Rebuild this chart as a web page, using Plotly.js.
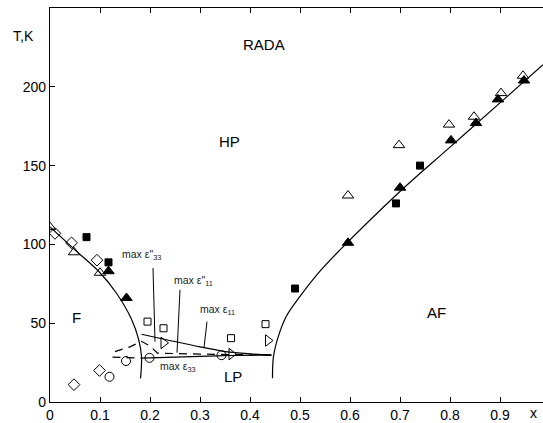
<!DOCTYPE html>
<html>
<head>
<meta charset="utf-8">
<script src="https://cdn.plot.ly/plotly-3.0.1.min.js"></script>
<style>html,body{margin:0;padding:0;background:#fff;}#chart{width:543px;height:423px;}</style>
</head>
<body>
<div id="chart"></div>
<script>
// ---- data ----
const openTriX = [0.0, 0.048, 0.1, 0.596, 0.698, 0.798, 0.848, 0.902, 0.946];
const openTriY = [111, 95, 82, 131, 163, 176, 181, 196, 207];
const fillTriX = [0.117, 0.153, 0.596, 0.70, 0.802, 0.852, 0.896, 0.948];
const fillTriY = [83, 66, 101, 136, 166, 177, 192, 204];
const fillSqX = [0.073, 0.117, 0.49, 0.692, 0.74];
const fillSqY = [104.6, 88.6, 72, 126, 150];
const openDiaX = [0.01, 0.043, 0.094, 0.099, 0.048];
const openDiaY = [107, 101, 90, 20, 11];
const openCircX = [0.119, 0.152, 0.199, 0.343];
const openCircY = [16, 26, 28, 29.7];
const openSqX = [0.195, 0.227, 0.362, 0.431];
const openSqY = [51, 46.8, 40.5, 49.4];
const openRTriX = [0.227, 0.363, 0.436];
const openRTriY = [37.5, 30.4, 39];

// phase boundaries
const leftBX = [0.0, 0.05, 0.1, 0.133, 0.163, 0.177, 0.183, 0.181];
const leftBY = [111, 96.5, 82, 69, 52.5, 40, 29, 15];
const rightBX = [0.445, 0.447, 0.457, 0.473, 0.5, 0.54, 0.58, 0.7, 0.8, 0.9, 0.986];
const rightBY = [15, 29, 42, 54.6, 67, 83, 96.5, 133.6, 161.7, 189.8, 214];
const upperLPX = [0.183, 0.3, 0.36, 0.443];
const upperLPY = [43, 35, 31.6, 29.8];
const lowerLPX = [0.183, 0.3, 0.36, 0.443];
const lowerLPY = [27.8, 29, 29.5, 29.8];
const midDashX = [0.13, 0.16, 0.183, 0.2, 0.215, 0.25, 0.3, 0.36, 0.443];
const midDashY = [32, 35, 38.5, 35.5, 31, 30.6, 30.4, 30.1, 29.8];
const lowDashX = [0.125, 0.183];
const lowDashY = [28.5, 27.8];

// leader lines for labels
const lead1X = [0.206, 0.21], lead1Y = [85, 38.3];
const lead2X = [0.26, 0.254], lead2Y = [71.2, 31.3];
const lead3X = [0.314, 0.308], lead3Y = [51, 34.5];

// text labels
const regionText = ['RADA', 'HP', 'F', 'AF', 'LP'];
const regionX = [0.428, 0.358, 0.052, 0.773, 0.366];
const regionY = [227, 165.5, 53.5, 56.5, 16.5];
const maxText = ['max ε"<sub>33</sub>', 'max ε"<sub>11</sub>', 'max ε<sub>11</sub>', 'max ε<sub>33</sub>'];
const maxX = [0.14, 0.244, 0.296, 0.216];
const maxY = [93, 77, 58.5, 22.5];

const xTicks = [0, 0.1, 0.2, 0.3, 0.4, 0.5, 0.6, 0.7, 0.8, 0.9];
const xTickText = ['0', '0.1', '0.2', '0.3', '0.4', '0.5', '0.6', '0.7', '0.8', '0.9'];
const yTicks = [0, 50, 100, 150, 200];

const K = '#000';
function line(x, y, opts) {
  return Object.assign({x: x, y: y, mode: 'lines', type: 'scatter', hoverinfo: 'skip',
    line: {color: K, width: 1.2}}, opts || {});
}
function pts(x, y, sym, size) {
  return {x: x, y: y, mode: 'markers', type: 'scatter', hoverinfo: 'skip',
    marker: {symbol: sym, size: size, color: K, line: {color: K, width: 1}}};
}

const traces = [
  line(leftBX, leftBY, {line: {color: K, width: 1.2, shape: 'spline'}}),
  line(rightBX, rightBY, {line: {color: K, width: 1.2, shape: 'spline'}}),
  line(upperLPX, upperLPY, {line: {color: K, width: 1.2, shape: 'spline'}}),
  line(lowerLPX, lowerLPY, {line: {color: K, width: 1.2, shape: 'spline'}}),
  line(midDashX, midDashY, {line: {color: K, width: 1.2, dash: '8px,6px'}}),
  line(lowDashX, lowDashY, {line: {color: K, width: 1.2, dash: '8px,6px'}}),
  line(lead1X, lead1Y, {line: {color: K, width: 1}}),
  line(lead2X, lead2Y, {line: {color: K, width: 1}}),
  line(lead3X, lead3Y, {line: {color: K, width: 1}}),
  pts(openTriX, openTriY, 'triangle-up-open', 10),
  pts(fillTriX, fillTriY, 'triangle-up', 10),
  pts(fillSqX, fillSqY, 'square', 7),
  pts(openDiaX, openDiaY, 'diamond-open', 9),
  pts(openCircX, openCircY, 'circle-open', 9),
  pts(openSqX, openSqY, 'square-open', 7),
  pts(openRTriX, openRTriY, 'triangle-right-open', 10)
];

const annotations = [];
regionText.forEach((t, i) => annotations.push({x: regionX[i], y: regionY[i], text: t, showarrow: false,
  xref: 'x', yref: 'y', font: {size: 15, color: K}}));
maxText.forEach((t, i) => annotations.push({x: maxX[i], y: maxY[i], text: t, showarrow: false,
  xref: 'x', yref: 'y', xanchor: 'left', font: {size: 10.5, color: '#222'}}));
annotations.push({xref: 'paper', yref: 'paper', x: -0.08, y: 0.955, xanchor: 'left',
  text: 'T,K', showarrow: false, font: {size: 14, color: K}});
annotations.push({xref: 'paper', yref: 'paper', x: 0.98, y: -0.028, yanchor: 'middle', xanchor: 'center',
  text: 'x', showarrow: false, font: {size: 14, color: K}});

const layout = {
  width: 543, height: 423,
  margin: {l: 50, r: 0, t: 8, b: 21},
  paper_bgcolor: '#fff', plot_bgcolor: '#fff',
  showlegend: false,
  font: {family: 'Liberation Sans, Arial, sans-serif', size: 14, color: K},
  xaxis: {range: [0, 0.986], tickvals: xTicks, ticktext: xTickText, ticks: 'inside', ticklen: 5,
    tickcolor: K, showline: true, linecolor: K, linewidth: 1.2, mirror: 'ticks', showgrid: false,
    zeroline: false, tickfont: {size: 14}},
  yaxis: {range: [0, 250], tickvals: yTicks, ticks: 'inside', ticklen: 5, tickcolor: K,
    showline: true, linecolor: K, linewidth: 1.2, showgrid: false, zeroline: false, tickfont: {size: 14}},
  annotations: annotations
};

Plotly.newPlot('chart', traces, layout, {staticPlot: true, displayModeBar: false});
</script>
</body>
</html>
